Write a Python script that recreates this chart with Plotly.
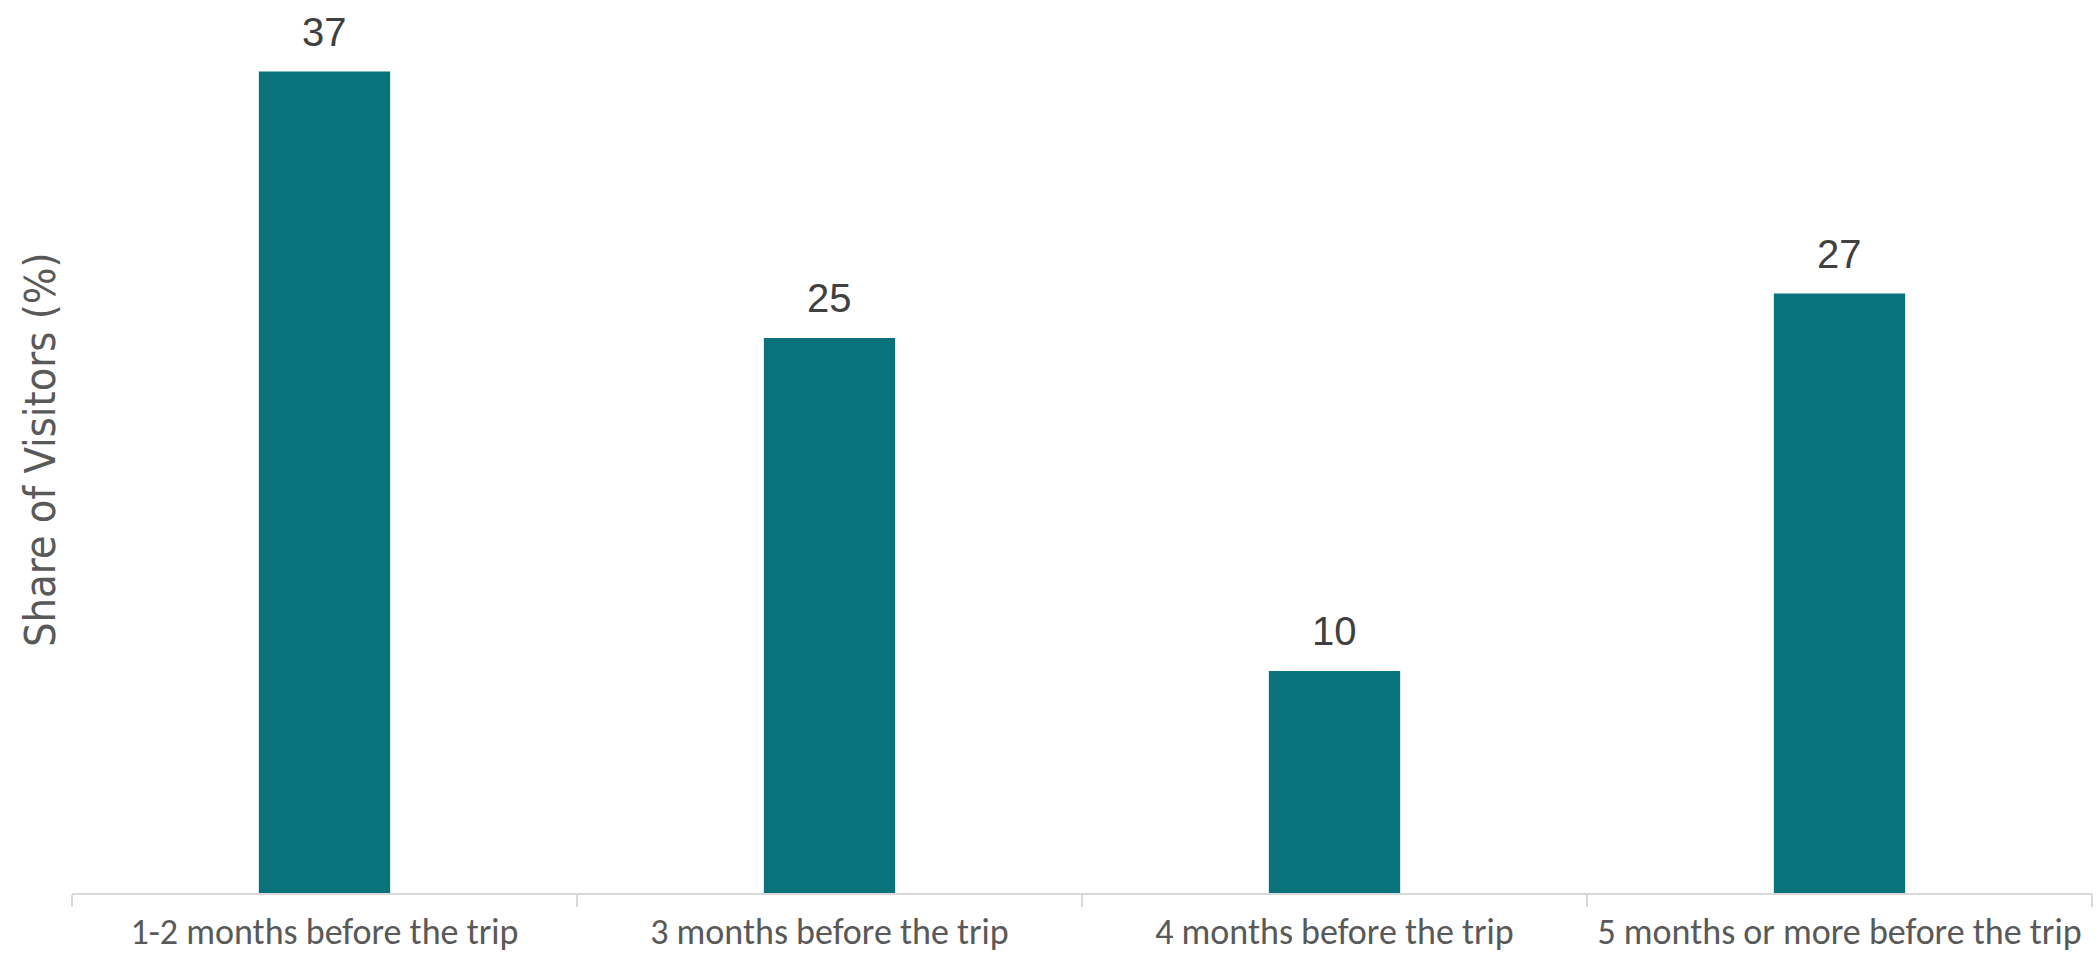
import plotly.graph_objects as go

categories = ["1-2 months before the trip", "3 months before the trip",
              "4 months before the trip", "5 months or more before the trip"]
values = [37, 25, 10, 27]
y_title = "Share of Visitors (%)"

fig = go.Figure()
fig.add_trace(go.Bar(x=categories, y=values, marker=dict(color="#0A727A", line=dict(width=0)),
                     hoverinfo="skip"))

for c, v in zip(categories, values):
    fig.add_annotation(x=c, y=v, text=str(v), showarrow=False, yanchor="bottom", yshift=16,
                       font=dict(family="Liberation Sans, Arial", size=40, color="#404040"))

fig.update_layout(
    width=2100, height=959,
    margin=dict(l=72, r=8, t=5, b=66),
    paper_bgcolor="white", plot_bgcolor="white",
    bargap=0.74, showlegend=False,
    xaxis=dict(range=[-0.5, 3.5], tickson="boundaries", ticks="outside", ticklen=12,
               tickcolor="#D9D9D9", tickwidth=2, showline=True, linecolor="#D9D9D9", linewidth=2,
               showgrid=False, zeroline=False, tickangle=0, automargin=False,
               ticklabelstandoff=6,
               tickfont=dict(family="Carlito, Lato, Open Sans", size=36, color="#595959")),
    yaxis=dict(range=[0, 40], showticklabels=False, showgrid=False, zeroline=False,
               showline=False, ticks="", automargin=False),
)
fig.add_annotation(xref="paper", yref="paper", x=0, y=0.5, xshift=-32, yshift=-1, text=y_title,
                   textangle=-90, showarrow=False, xanchor="center", yanchor="middle",
                   font=dict(family="Liberation Sans Narrow, DejaVu Sans Condensed, Open Sans", size=43, color="#595959"))

fig.write_html("out.html", config={"displayModeBar": False},
               post_script="document.body.style.margin='0';document.body.style.overflow='hidden';")
